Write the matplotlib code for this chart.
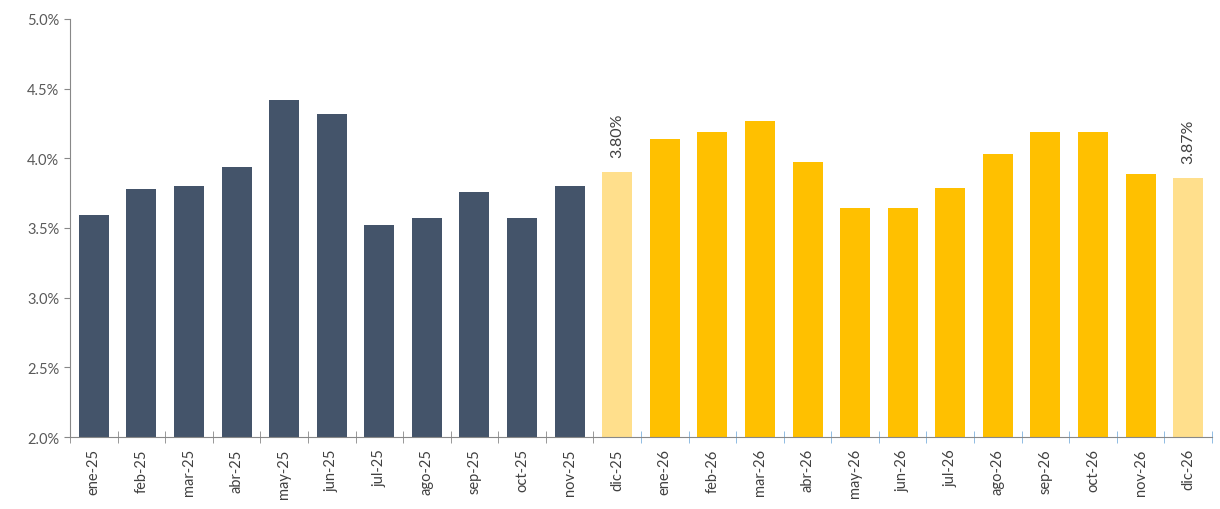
import numpy as np
import matplotlib.pyplot as plt
from matplotlib.ticker import FuncFormatter, FixedLocator

plt.rcParams['font.family'] = ['Lato', 'DejaVu Sans']

# data
months = ['ene-25', 'feb-25', 'mar-25', 'abr-25', 'may-25', 'jun-25', 'jul-25', 'ago-25',
          'sep-25', 'oct-25', 'nov-25', 'dic-25',
          'ene-26', 'feb-26', 'mar-26', 'abr-26', 'may-26', 'jun-26', 'jul-26', 'ago-26',
          'sep-26', 'oct-26', 'nov-26', 'dic-26']
values = [3.59, 3.78, 3.80, 3.94, 4.42, 4.32, 3.52, 3.57, 3.76, 3.57, 3.80, 3.90,
          4.14, 4.19, 4.27, 3.97, 3.64, 3.64, 3.79, 4.03, 4.19, 4.19, 3.89, 3.86]
kind = ['obs'] * 11 + ['dec'] + ['proj'] * 11 + ['dec']
labels = {11: '3.80%', 23: '3.87%'}

colors = {'obs': '#44546A', 'proj': '#FFC000', 'dec': '#FFDF8C'}

fig = plt.figure(figsize=(12.2, 5.1), dpi=100)
ax = fig.add_axes([0.0574, 0.141, 0.936, 0.82])

x = np.arange(len(months))
ax.bar(x, values, width=0.63, color=[colors[k] for k in kind], zorder=2)

for i, txt in labels.items():
    ax.annotate(txt, (x[i], values[i]), xytext=(0, 11), textcoords='offset points',
                rotation=90, ha='center', va='bottom', fontsize=11.5, color='#404040')

ax.set_ylim(2.0, 5.0)
ax.set_xlim(-0.5, len(months) - 0.5)
ax.set_yticks(np.arange(2.0, 5.01, 0.5))
ax.yaxis.set_major_formatter(FuncFormatter(lambda v, p: f'{v:.1f}%'))

ax.set_xticks(x)
ax.set_xticklabels(months, rotation=90, fontsize=10.5, color='#404040')
ax.tick_params(axis='x', which='major', length=0, pad=8)
ax.xaxis.set_minor_locator(FixedLocator(np.arange(-0.5, len(months), 1.0)))
ax.tick_params(axis='x', which='minor', length=8, direction='inout', color='#888888')
ax.tick_params(axis='y', length=4, direction='out', color='#888888', labelsize=10.5,
               labelcolor='#595959', pad=27)
for lbl in ax.get_yticklabels():
    lbl.set_horizontalalignment('left')

for s in ['top', 'right']:
    ax.spines[s].set_visible(False)
for s in ['left', 'bottom']:
    ax.spines[s].set_color('#888888')

# ticks after dic-25 drawn in light blue
fig.canvas.draw()
for j, t in enumerate(ax.xaxis.get_minor_ticks()):
    if j >= 12:
        t.tick1line.set_markeredgecolor('#7FB2DE')

fig.savefig('out.png', dpi=100)
